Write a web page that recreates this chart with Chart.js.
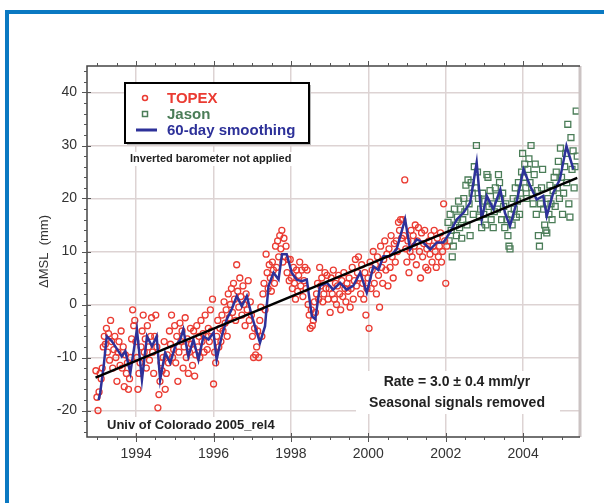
<!DOCTYPE html>
<html>
<head>
<meta charset="utf-8">
<script src="https://cdn.jsdelivr.net/npm/chart.js@4"></script>
<style>
  html, body { margin: 0; padding: 0; background: #fff; }
  #wrap { position: relative; width: 604px; height: 503px; overflow: hidden; }
  #frame { position: absolute; left: 5px; top: 10px; width: 700px; height: 600px;
           border-left: 4px solid #0a79c2; border-top: 4px solid #0a79c2; }
  canvas { position: absolute; left: 0; top: 0; }
</style>
</head>
<body>
<div id="wrap">
  <div id="frame"></div>
  <canvas id="chart" width="604" height="503"></canvas>
</div>
<script>
// tick labels
const xTicks = [1994, 1996, 1998, 2000, 2002, 2004];
const yTicks = [-20, -10, 0, 10, 20, 30, 40];
const legendLabels = ["TOPEX", "Jason", "60-day smoothing"];

// one value per ~10-day repeat cycle
const cycleYears = 9.9156 / 365.25;
const topexStart = 1992.96;
const jasonStart = 2002.06;

const topexMM = [
  -12.5, -17.5, -20, -16.5, -13, -14, -12, -8, -6, -7.5, -4.5, -9, -5.5, -10.5, -3, -7, -12, -8.5, -6, -10, -14.5, -9, -7, -11.5, -5, -12, -8, -15.5, -9.5, -13, -11, -16, -14, -10, -6.5, -1, -4,
  -3, -7, -10, -16, -13, -11, -8, -5, -2, -9, -6.5, -12, -4, -8, -10.5, -6, -2.5, -9, -13, -6, -2, -8, -19.5, -17, -14.5, -11, -12.5, -10, -7, -16, -13, -9.5, -11, -5, -7.5, -2, -10,
  -8.5, -4, -11, -6, -14.5, -9, -3.5, -7, -5, -12, -8, -2.5, -10, -6.5, -13, -9, -4.5, -7.5, -11.5, -5, -13.5, -9.5, -4, -8, -6, -10, -3, -7, -5.5, -9, -2, -6, -8.5, -4.5, -7, -1, -5,
  1, -15, -9, -11, -6, -3, -8, -4.5, -7, -2, -5, 0.5, -3.5, -1, -6, 2, -2.5, 0, 3, -1.5, 4, 1, -3, 7.5, 2.5, -0.5, 5, 1.5, -2, 3.5, 0, -4, 2, -1, 4.5, -3, 0.5,
  -2, -6, -10, -4.5, -9.5, -8, -5, -10, -3, -0.5, -6, 2, 4, -1, 9.5, 6, 3, 7.5, 5, 2.5, 8, 6.5, 4, 11, 7, 12, 9, 13, 10.5, 14, 8, 12.5, 9, 11, 6, 8.5, 4.5,
  8.5, 5, 3, 7, 4, 1, 6.5, 2.5, 5.5, 8, 3.5, 6.5, 1.5, 4.5, 7, 3, 6.5, 0, -2, -4.5, -1, -4, -3, 0.5, -1.5, 2, 4, 1, 7, 3.5, 5, 0.5, 2, 6, 3, 5.5, 1,
  3, -1.5, 5, 2, 6.5, 1, 4, 0, 3.5, 5.5, 2, -1, 4.5, 1.5, 6, 3, 0.5, 4, 2.5, 5, -0.5, 3, 7, 1, 4.5, 8.5, 3.5, 6, 9, 5, 2, 7.5, 4, 1, 6, -2, 3,
  5, -4.5, 8, 3, 6.5, 10, 4, 7.5, 2, 9, 5.5, -0.5, 11, 7, 4, 8.5, 12, 6.5, 9.5, 3.5, 10.5, 7, 13, 9, 5, 11.5, 8, 12, 10, 15.5, 14, 16, 12.5, 16, 13, 23.5, 10.5,
  8, 12, 6, 10, 14, 9, 13, 11, 15, 7.5, 12, 14.5, 10, 5, 13.5, 9, 11.5, 14, 7, 10.5, 6.5, 12, 9.5, 13, 8, 11, 14, 10, 7, 12.5, 9, 11, 13.5, 8, 10, 19, 12, 4, 11
];

const jasonMM = [
  15.5, 12, 17, 14, 9, 11, 18, 15, 13, 16.5, 19.5, 14.5, 18, 12.5, 16, 20, 17.5, 22.5, 15, 23.5,
  19, 13, 23, 21, 17, 26, 22, 30, 25, 20, 16.5, 18, 14.5, 21, 17, 19.5, 15, 24.5, 24, 18.5,
  21.5, 16, 19, 14.5, 17.5, 22, 20.5, 18, 24.5, 23, 20, 16, 21, 18.5, 14.5, 19, 16, 13, 11, 10.5,
  17, 15, 20, 18, 22, 16.5, 19.5, 23, 17, 21, 25, 28.5, 24, 26.5, 22, 20, 25.5, 27.5, 23, 30,
  21, 19, 24.5, 26.5, 17, 21.5, 13, 11, 19, 22, 25.5, 18, 15, 14, 13.5, 20, 17, 22.5, 19, 16,
  21.5, 24, 18.5, 25, 22, 27, 20, 29.5, 24, 17, 21, 26, 28.5, 23, 34, 19, 16.5, 31.5, 25.5, 29,
  22, 26, 36.5, 28
];

const smoothYears = [
  1993.03, 1993.07, 1993.16, 1993.24, 1993.37, 1993.46, 1993.54, 1993.63, 1993.72, 1993.85,
  1994.02, 1994.15, 1994.28, 1994.41, 1994.53, 1994.62, 1994.75, 1994.88, 1995.01, 1995.14,
  1995.22, 1995.35, 1995.48, 1995.61, 1995.74, 1995.87, 1996.0, 1996.08, 1996.21, 1996.34,
  1996.47, 1996.6, 1996.73, 1996.86, 1996.99, 1997.12, 1997.2, 1997.33, 1997.42, 1997.55,
  1997.68, 1997.77, 1997.89, 1998.02, 1998.15, 1998.28, 1998.41, 1998.54, 1998.63, 1998.75,
  1998.93, 1999.09, 1999.27, 1999.44, 1999.61, 1999.79, 1999.96, 2000.13, 2000.26, 2000.39,
  2000.56, 2000.73, 2000.95, 2001.08, 2001.25, 2001.42, 2001.6, 2001.77, 2001.94, 2002.11,
  2002.29, 2002.46, 2002.63, 2002.8, 2002.93, 2003.06, 2003.23, 2003.41, 2003.53, 2003.66,
  2003.83, 2004.01, 2004.18, 2004.35, 2004.52, 2004.61, 2004.78, 2004.95, 2005.12, 2005.3
];
const smoothMM = [
  -18, -16.7, -11.7, -6, -6.9, -7.9, -8.8, -9.8, -8.8, -12.9,
  -4.7, -14.2, -6, -7.9, -6, -14.2, -9.1, -11, -7.9, -6.6,
  -4.7, -9.8, -6.6, -10.4, -6, -6.6, -5.3, -10.4, -6, -2.8,
  -0.9, 1.6, -0.3, 1.6, -2.2, -5.3, -7.2, -4.1, 3.5, 6,
  4.7, 9.5, 9.5, 6, 4.7, 4.4, 4.7, -2.2, -2.8, 3.5,
  4.1, 2.8, 4.1, 2.8, 3.5, 6, 2.2, 7.2, 6.5, 9.1,
  9.1, 10.4, 16.1, 10.4, 12.3, 11.7, 10.4, 11.7, 11.7, 13.6,
  16.1, 17.3, 19.2, 26.8, 16.1, 20.5, 18, 21.7, 17.3, 14.8,
  19.2, 25.5, 22.4, 19.8, 20.5, 16.7, 21.1, 23.6, 29.9, 25.5
];

const trendYears = [1992.95, 2005.4];
const trendMM = [-13.8, 23.9];

const FONT = "'Liberation Sans', Arial, Helvetica, sans-serif";

const decor = {
  id: "decor",
  beforeDraw(chart) {
    const { ctx, chartArea: a } = chart;
    ctx.save();
    ctx.fillStyle = "#fff";
    ctx.fillRect(a.left, a.top, a.right - a.left, a.bottom - a.top);
    ctx.restore();
  },
  afterDatasetsDraw(chart) {
    const { ctx, chartArea: a, scales } = chart;
    const x = scales.x, y = scales.y;
    ctx.save();

    // right border is a pale thick line, the rest dark
    ctx.strokeStyle = "#cbc3c3";
    ctx.lineWidth = 3;
    ctx.beginPath();
    ctx.moveTo(a.right, a.top);
    ctx.lineTo(a.right, a.bottom);
    ctx.stroke();

    ctx.strokeStyle = "#444";
    ctx.lineWidth = 1.5;
    ctx.beginPath();
    ctx.moveTo(a.right, a.top);
    ctx.lineTo(a.left, a.top);
    ctx.lineTo(a.left, a.bottom);
    ctx.lineTo(a.right, a.bottom);
    ctx.stroke();

    // tick marks
    ctx.strokeStyle = "#555";
    ctx.lineWidth = 1;
    ctx.beginPath();
    for (let yr = 1993; yr <= 2005; yr += 0.5) {
      const px = Math.round(x.getPixelForValue(yr)) + 0.5;
      const major = yr % 2 === 0;
      ctx.moveTo(px, a.bottom - (major ? 4 : 0));
      ctx.lineTo(px, a.bottom + (major ? 5 : 3));
      ctx.moveTo(px, a.top);
      ctx.lineTo(px, a.top - (major ? 5 : 3));
    }
    for (let v = -24; v <= 44; v += 2) {
      const py = Math.round(y.getPixelForValue(v)) + 0.5;
      const major = v % 10 === 0;
      ctx.moveTo(a.left - (major ? 5 : 3), py);
      ctx.lineTo(a.left + (major ? 4 : 0), py);
    }
    ctx.stroke();

    // legend box
    const lx = 125, ly = 83, lw = 184, lh = 60;
    ctx.fillStyle = "#b8b8b8";
    ctx.fillRect(lx + 2, ly + 2, lw, lh);
    ctx.fillStyle = "#fff";
    ctx.fillRect(lx, ly, lw, lh);
    ctx.strokeStyle = "#000";
    ctx.lineWidth = 2;
    ctx.strokeRect(lx, ly, lw, lh);

    const rowY = [98, 114, 130];
    const rowColor = ["#ea3b32", "#4b7d58", "#2d3199"];
    ctx.lineWidth = 1.5;
    ctx.strokeStyle = rowColor[0];
    ctx.beginPath();
    ctx.arc(145, rowY[0], 2.5, 0, Math.PI * 2);
    ctx.stroke();
    ctx.strokeStyle = rowColor[1];
    ctx.strokeRect(142.5, rowY[1] - 2.5, 5, 5);
    ctx.strokeStyle = rowColor[2];
    ctx.lineWidth = 3;
    ctx.beginPath();
    ctx.moveTo(136, rowY[2]);
    ctx.lineTo(157, rowY[2]);
    ctx.stroke();

    ctx.font = "bold 15px " + FONT;
    ctx.textBaseline = "middle";
    ctx.textAlign = "left";
    legendLabels.forEach((t, i) => {
      ctx.fillStyle = rowColor[i];
      ctx.fillText(t, 167, rowY[i] + 1);
    });

    // notes
    ctx.fillStyle = "#fff";
    ctx.fillRect(128, 152, 180, 14);
    ctx.fillRect(356, 371, 204, 43);
    ctx.fillRect(104, 417, 186, 16);

    ctx.fillStyle = "#222";
    ctx.font = "bold 11px " + FONT;
    ctx.fillText("Inverted barometer not applied", 130, 159);

    ctx.font = "bold 14px " + FONT;
    ctx.textAlign = "center";
    ctx.fillText("Rate = 3.0 \u00b1 0.4 mm/yr", 457, 382);
    ctx.fillText("Seasonal signals removed", 457, 403);

    ctx.font = "bold 13px " + FONT;
    ctx.textAlign = "left";
    ctx.fillText("Univ of Colorado 2005_rel4", 107, 425);

    ctx.restore();
  }
};

const ctx = document.getElementById("chart").getContext("2d");
new Chart(ctx, {
  type: "scatter",
  data: {
    datasets: [
      {
        label: "trend",
        data: trendYears.map((t, i) => ({ x: t, y: trendMM[i] })),
        showLine: true,
        borderColor: "#000",
        borderWidth: 2.5,
        pointRadius: 0,
        tension: 0
      },
      {
        label: legendLabels[2],
        data: smoothYears.map((t, i) => ({ x: t, y: smoothMM[i] })),
        showLine: true,
        borderColor: "#2d3199",
        borderWidth: 2.5,
        pointRadius: 0,
        tension: 0
      },
      {
        label: legendLabels[0],
        data: topexMM.map((v, i) => ({ x: topexStart + i * cycleYears, y: v })),
        pointStyle: "circle",
        pointRadius: 3,
        borderWidth: 1.3,
        borderColor: "#ea3b32",
        backgroundColor: "rgba(255,255,255,0)"
      },
      {
        label: legendLabels[1],
        data: jasonMM.map((v, i) => ({ x: jasonStart + i * cycleYears, y: v })),
        pointStyle: "rect",
        pointRadius: 4.2,
        borderWidth: 1.3,
        borderColor: "#4b7d58",
        backgroundColor: "rgba(255,255,255,0)"
      }
    ]
  },
  options: {
    responsive: false,
    animation: false,
    layout: { padding: { left: 0, top: 66, right: 24, bottom: 0 } },
    plugins: { legend: { display: false }, tooltip: { enabled: false } },
    scales: {
      x: {
        type: "linear",
        min: 1992.73,
        max: 2005.47,
        afterBuildTicks: (s) => { s.ticks = xTicks.map((v) => ({ value: v })); },
        afterFit: (s) => { s.height = 66; },
        border: { display: false },
        grid: { color: "#ddd3d3", lineWidth: 1.5, drawTicks: false },
        ticks: {
          padding: 9,
          color: "#333",
          font: { family: FONT, size: 14 },
          maxRotation: 0,
          callback: (v) => String(v)
        }
      },
      y: {
        min: -25,
        max: 45,
        afterBuildTicks: (s) => { s.ticks = yTicks.map((v) => ({ value: v })); },
        afterFit: (s) => { s.width = 87; },
        border: { display: false },
        grid: { color: "#ddd3d3", lineWidth: 1.5, drawTicks: false },
        ticks: {
          padding: 10,
          color: "#333",
          font: { family: FONT, size: 14 },
          callback: (v) => String(v)
        },
        title: {
          display: true,
          text: "\u0394MSL  (mm)",
          color: "#333",
          font: { family: FONT, size: 13 },
          padding: { top: 37, bottom: 0 }
        }
      }
    }
  },
  plugins: [decor]
});
</script>
</body>
</html>
